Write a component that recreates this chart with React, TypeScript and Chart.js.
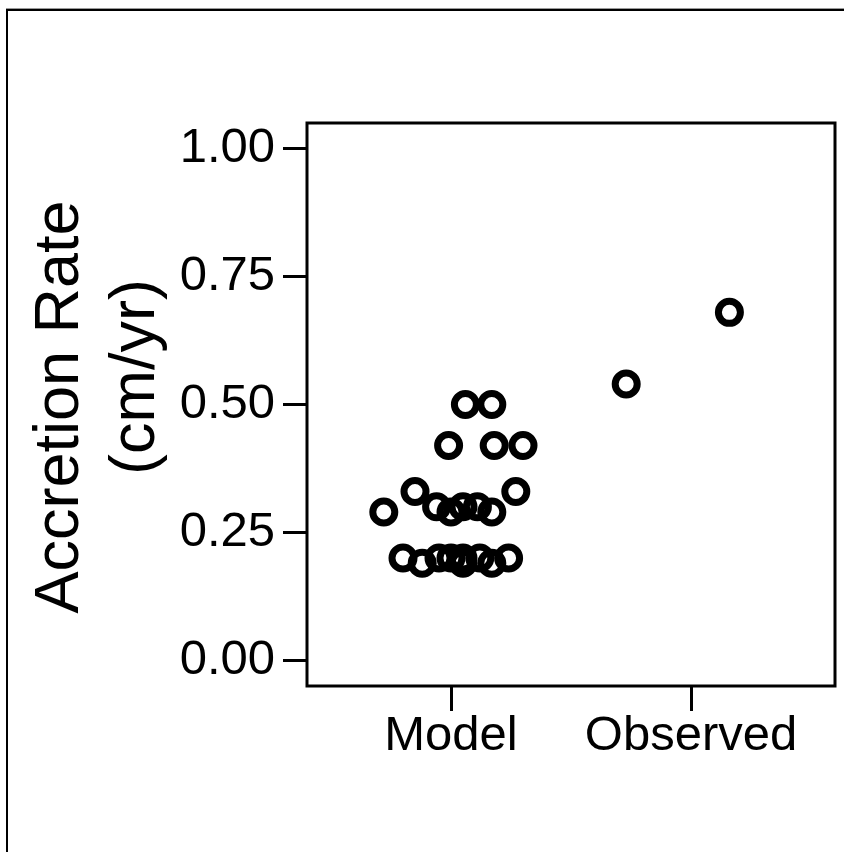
import { useEffect, useRef } from "react";
import { Chart, registerables } from "chart.js";

Chart.register(...registerables);

// Group labels and their positions on the x axis
const categories = ["Model", "Observed"];
const categoryPositions = [1, 2];

// Model runs: jittered x position and accretion rate (cm/yr)
const modelJitter = [1.06, 1.17, 0.99, 1.18, 1.3, 0.85, 1.27, 0.72, 0.94, 1.0, 1.05, 1.11, 1.17, 0.8, 0.88, 0.95, 1.0, 1.05, 1.05, 1.12, 1.17, 1.24];
const modelRate = [0.5, 0.5, 0.42, 0.42, 0.42, 0.33, 0.33, 0.29, 0.3, 0.29, 0.3, 0.3, 0.29, 0.2, 0.19, 0.2, 0.2, 0.2, 0.19, 0.2, 0.19, 0.2];

// Field observations
const observedJitter = [1.73, 2.16];
const observedRate = [0.54, 0.68];

// Axis ticks and title
const yTickValues = [0, 0.25, 0.5, 0.75, 1];
const yTitleLines = ["Accretion Rate", "(cm/yr)"];

const FONT = "'Liberation Sans', Arial, sans-serif";

const framePlugin = {
  id: "frame",
  beforeDraw(chart: any) {
    const ctx = chart.ctx;
    ctx.save();
    ctx.fillStyle = "#000";
    // page border (left and top edges)
    ctx.fillRect(6, 9, 2, chart.height);
    ctx.fillRect(6, 9, chart.width, 2);
    ctx.fillStyle = "#9a9a9a";
    ctx.fillRect(6, 8, chart.width, 1);
    ctx.restore();
  },
  afterDraw(chart: any) {
    const { ctx, chartArea } = chart;
    ctx.save();
    ctx.strokeStyle = "#000";
    ctx.lineWidth = 3;
    ctx.strokeRect(chartArea.left, chartArea.top, chartArea.right - chartArea.left, chartArea.bottom - chartArea.top);

    // two-line rotated y-axis title
    ctx.fillStyle = "#000";
    ctx.font = `63px ${FONT}`;
    ctx.textAlign = "center";
    ctx.textBaseline = "alphabetic";
    const anchors = [
      [78, 407],
      [154, 377],
    ];
    yTitleLines.forEach((line, i) => {
      ctx.save();
      ctx.translate(anchors[i][0], anchors[i][1]);
      ctx.rotate(-Math.PI / 2);
      ctx.fillText(line, 0, 0);
      ctx.restore();
    });
    ctx.restore();
  },
};

export default function App() {
  const canvasRef = useRef<HTMLCanvasElement | null>(null);

  useEffect(() => {
    if (!canvasRef.current) return;
    const pointStyle = {
      pointStyle: "circle" as const,
      pointRadius: 11,
      pointHoverRadius: 11,
      pointBorderWidth: 7,
      pointHoverBorderWidth: 7,
      pointBackgroundColor: "rgba(0,0,0,0)",
      pointBorderColor: "#000",
      showLine: false,
    };
    const chart = new Chart(canvasRef.current, {
      type: "scatter",
      data: {
        datasets: [
          {
            label: categories[0],
            data: modelRate.map((y, i) => ({ x: modelJitter[i], y })),
            ...pointStyle,
          },
          {
            label: categories[1],
            data: observedRate.map((y, i) => ({ x: observedJitter[i], y })),
            ...pointStyle,
          },
        ],
      },
      options: {
        animation: false,
        responsive: false,
        maintainAspectRatio: false,
        devicePixelRatio: 1,
        layout: { autoPadding: false, padding: { left: 0, top: 123, right: 9, bottom: 0 } },
        plugins: {
          legend: { display: false },
          tooltip: { enabled: false },
          title: { display: false },
        },
        scales: {
          x: {
            type: "linear",
            min: 0.4,
            max: 2.6,
            afterBuildTicks: (scale: any) => {
              scale.ticks = categoryPositions.map((v) => ({ value: v }));
            },
            afterFit: (scale: any) => {
              scale.height = 166;
            },
            border: { display: false },
            grid: {
              drawOnChartArea: false,
              drawTicks: true,
              tickLength: 25,
              tickWidth: 3,
              tickColor: "#000",
            },
            ticks: {
              color: "#000",
              font: { family: FONT, size: 49, lineHeight: 1 },
              padding: 1,
              maxRotation: 0,
              autoSkip: false,
              callback: (v: any) => {
                const idx = categoryPositions.indexOf(Number(v));
                return idx >= 0 ? categories[idx] : "";
              },
            },
          },
          y: {
            type: "linear",
            min: -0.05,
            max: 1.05,
            afterBuildTicks: (scale: any) => {
              scale.ticks = yTickValues.map((v) => ({ value: v }));
            },
            afterFit: (scale: any) => {
              scale.width = 307;
            },
            border: { display: false },
            grid: {
              drawOnChartArea: false,
              drawTicks: true,
              tickLength: 24,
              tickWidth: 3,
              tickColor: "#000",
            },
            ticks: {
              color: "#000",
              font: { family: FONT, size: 49 },
              padding: 8,
              autoSkip: false,
              callback: (v: any) => Number(v).toFixed(2),
            },
          },
        },
      },
      plugins: [framePlugin],
    });
    return () => chart.destroy();
  }, []);

  return (
    <div style={{ position: "absolute", left: 0, top: 0, width: 844, height: 852, background: "#fff" }}>
      <canvas ref={canvasRef} width={844} height={852} style={{ display: "block" }} />
    </div>
  );
}
